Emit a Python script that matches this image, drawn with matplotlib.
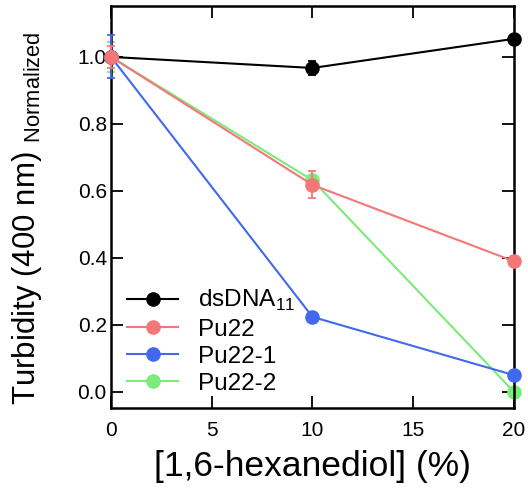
import matplotlib
matplotlib.use("Agg")
import matplotlib.pyplot as plt

plt.rcParams['font.family'] = ['Liberation Sans', 'DejaVu Sans']

# Hexanediol concentration (%)
conc = [0, 10, 20]

# Normalized turbidity at 400 nm and error estimates
series_names = ["dsDNA$_{\\mathregular{11}}$", "Pu22", "Pu22-1", "Pu22-2"]
ds_vals = [1.0, 0.967, 1.054]
ds_err = [0.01, 0.02, 0.01]
pu22_vals = [1.0, 0.618, 0.39]
pu22_err = [0.034, 0.04, 0.015]
pu22_1_vals = [1.0, 0.224, 0.05]
pu22_1_err = [0.064, 0.01, 0.01]
pu22_2_vals = [1.0, 0.632, 0.0]
pu22_2_err = [0.045, 0.01, 0.01]

colors = ["#000000", "#F47777", "#4169EE", "#7BEB7B"]

fig = plt.figure(figsize=(5.28, 4.91), dpi=100)
ax = fig.add_axes([0.2102, 0.169, 0.7633, 0.8188])

series = [
    (ds_vals, ds_err, colors[0], 3),
    (pu22_vals, pu22_err, colors[1], 5),
    (pu22_1_vals, pu22_1_err, colors[2], 3),
    (pu22_2_vals, pu22_2_err, colors[3], 2),
]
handles = []
for vals, err, col, z in series:
    cont = ax.errorbar(conc, vals, yerr=err, color=col, ecolor=col,
                       marker='o', markersize=9.5, linewidth=1.5,
                       elinewidth=1.3, capsize=3, capthick=1.3,
                       zorder=z, clip_on=False)
    handles.append(cont[0])

ax.set_xlim(0, 20)
ax.set_ylim(-0.048, 1.152)
ax.set_xticks([0, 5, 10, 15, 20])
ax.set_yticks([0.0, 0.2, 0.4, 0.6, 0.8, 1.0])
ax.set_yticklabels(["0.0", "0.2", "0.4", "0.6", "0.8", "1.0"])

for s in ax.spines.values():
    s.set_linewidth(1.8)

ax.tick_params(axis='both', direction='in', length=8.5, width=1.3,
               labelsize=15, top=True, right=True)
ax.tick_params(axis='x', pad=9)
ax.tick_params(axis='y', pad=3)

ax.set_xlabel("[1,6-hexanediol] (%)", fontsize=25.5)
ax.xaxis.set_label_coords(0.5, -0.105)
ax.set_ylabel("Turbidity (400 nm) $_{\\mathregular{Normalized}}$", fontsize=22.5)
ax.yaxis.set_label_coords(-0.165, 0.473)

ax.legend(handles, series_names, loc='upper left',
          bbox_to_anchor=(0.04, 0.298), frameon=False, fontsize=17.5,
          borderaxespad=0, borderpad=0, handlelength=2.1,
          handletextpad=0.8, labelspacing=0.21, numpoints=1)

fig.savefig("out.png", dpi=100)
